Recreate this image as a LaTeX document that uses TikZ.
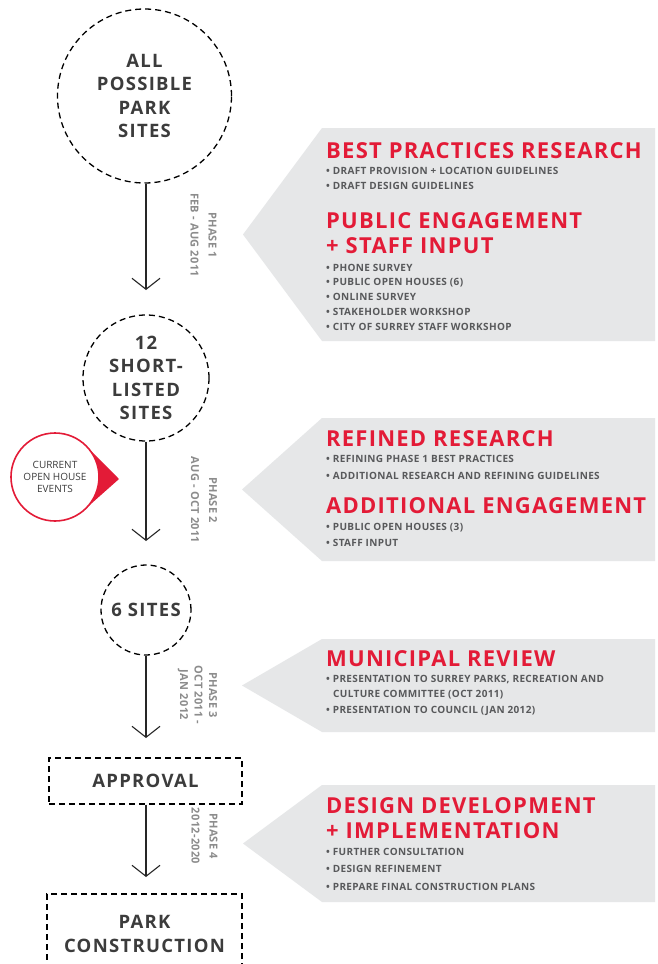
\documentclass[tikz,border=0pt]{standalone}
\usepackage{fontspec}
\setmainfont{Open Sans}
\newfontfamily\ttlfont{Open Sans}[LetterSpace=5.6]
\newfontfamily\nodefont{Open Sans}[LetterSpace=7]
\newfontfamily\phasefont{Open Sans}[LetterSpace=3]
\newfontfamily\bulfont{Open Sans}[LetterSpace=3.5]
\newfontfamily\markfont{Open Sans}
\usetikzlibrary{arrows.meta,calc}
\definecolor{tred}{RGB}{227,27,55}
\definecolor{bulgray}{RGB}{88,89,91}
\definecolor{maintext}{RGB}{60,60,60}
\definecolor{phasegray}{RGB}{140,140,140}
\definecolor{panelgray}{RGB}{230,231,232}
\tikzset{
  dline/.style={draw=black, line width=1.3pt, dash pattern=on 6pt off 4pt},
  dcirc/.style={circle, dline, inner sep=0pt, align=center, text=maintext,
    font=\nodefont\bfseries\fontsize{18.5}{23.3}\selectfont},
  dbox/.style={rectangle, dline, inner sep=0pt, align=center, text=maintext,
    font=\nodefont\bfseries\fontsize{18.5}{24.5}\selectfont},
  flow/.style={draw=black!85, line width=1.1pt, -{Straight Barb[length=11pt,width=28pt]}},
  phase/.style={rotate=-90, align=center, inner sep=0pt, text=phasegray,
    font=\phasefont\bfseries\fontsize{11}{18}\selectfont},
  ttl/.style={anchor=base west, inner sep=0pt, text=tred,
    font=\ttlfont\bfseries\fontsize{22}{22}\selectfont},
  bul/.style={anchor=base west, inner sep=0pt, text=bulgray,
    font=\bulfont\bfseries\fontsize{10}{10}\selectfont},
  panel/.style={fill=panelgray},
  marker/.style={circle, draw=tred, line width=1.6pt, fill=white, inner sep=0pt,
    minimum size=88pt, align=center, text=maintext,
    font=\markfont\fontsize{10}{12}\selectfont}
}
\begin{document}
\begin{tikzpicture}[x=1pt,y=-1pt]
\clip (0,0) rectangle (658,964);
\fill[white] (0,0) rectangle (658,964);
% grey panels
\fill[panel] (243,234.5) -- (322,128) -- (655,128) -- (655,341) -- (322,341) -- cycle;
\fill[panel] (242,489.5) -- (322,418) -- (655,418) -- (655,561) -- (322,561) -- cycle;
\fill[panel] (242,685.5) -- (322,639) -- (655,639) -- (655,732) -- (322,732) -- cycle;
\fill[panel] (243,843.5) -- (322,785) -- (655,785) -- (655,902) -- (322,902) -- cycle;
% panel 1 text
\node[ttl] (h1) at (326,158) {BEST PRACTICES RESEARCH};
\node[bul] (b11) at (326,174.3) {\textbullet\ DRAFT PROVISION + LOCATION GUIDELINES};
\node[bul] (b12) at (326,189) {\textbullet\ DRAFT DESIGN GUIDELINES};
\node[ttl] (h2) at (326,228) {PUBLIC ENGAGEMENT};
\node[ttl] (h2b) at (326,253) {+ STAFF INPUT};
\node[bul] (b21) at (326,271) {\textbullet\ PHONE SURVEY};
\node[bul] (b22) at (326,285.7) {\textbullet\ PUBLIC OPEN HOUSES (6)};
\node[bul] (b23) at (326,300.5) {\textbullet\ ONLINE SURVEY};
\node[bul] (b24) at (326,315.3) {\textbullet\ STAKEHOLDER WORKSHOP};
\node[bul] (b25) at (326,330) {\textbullet\ CITY OF SURREY STAFF WORKSHOP};
% panel 2 text
\node[ttl] (h3) at (326,446.7) {REFINED RESEARCH};
\node[bul] (b31) at (326,462.3) {\textbullet\ REFINING PHASE 1 BEST PRACTICES};
\node[bul] (b32) at (326,479) {\textbullet\ ADDITIONAL RESEARCH AND REFINING GUIDELINES};
\node[ttl] (h4) at (326,513.3) {ADDITIONAL ENGAGEMENT};
\node[bul] (b41) at (326,530) {\textbullet\ PUBLIC OPEN HOUSES (3)};
\node[bul] (b42) at (326,546.7) {\textbullet\ STAFF INPUT};
% panel 3 text
\node[ttl] (h5) at (326,666.7) {MUNICIPAL REVIEW};
\node[bul] (b51) at (326,682.7) {\textbullet\ PRESENTATION TO SURREY PARKS, RECREATION AND};
\node[bul] (b51b) at (333,697.7) {CULTURE COMMITTEE (OCT 2011)};
\node[bul] (b52) at (326,713.3) {\textbullet\ PRESENTATION TO COUNCIL (JAN 2012)};
% panel 4 text
\node[ttl] (h6) at (326,813.3) {DESIGN DEVELOPMENT};
\node[ttl] (h6b) at (326,838.8) {+ IMPLEMENTATION};
\node[bul] (b61) at (326,855) {\textbullet\ FURTHER CONSULTATION};
\node[bul] (b62) at (326,872.7) {\textbullet\ DESIGN REFINEMENT};
\node[bul] (b63) at (326,890) {\textbullet\ PREPARE FINAL CONSTRUCTION PLANS};
% flow nodes
\node[dcirc, minimum size=174pt] (c1) at (144.5,96) {ALL\\POSSIBLE\\PARK\\SITES};
\node[dcirc, minimum size=126pt] (c2) at (146,378) {12\\SHORT-\\LISTED\\SITES};
\node[dcirc, minimum size=90pt] (c3) at (146,610) {6 SITES};
\node[dbox, minimum width=193pt, minimum height=46pt] (ap) at (145.5,781) {APPROVAL};
\node[dbox, minimum width=195pt, minimum height=80pt] (pc) at (144.5,934) {PARK\\CONSTRUCTION};
% arrows
\coordinate (t1) at (146,290);
\coordinate (t2) at (146,541);
\coordinate (t3) at (146,738);
\coordinate (t4) at (146,877);
\draw[flow] (c1.south -| t1) -- (t1);
\draw[flow] (c2.south -| t2) -- (t2);
\draw[flow] (c3.south -| t3) -- (t3);
\draw[flow] (ap.south -| t4) -- (t4);
% phase labels
\node[phase] (p1) at (203.5,235) {PHASE 1\\FEB - AUG 2011};
\node[phase] (p2) at (204,500) {PHASE 2\\AUG - OCT 2011};
\node[phase, font=\phasefont\bfseries\fontsize{11}{14.5}\selectfont] (p3) at (197.5,695) {PHASE 3\\OCT 2011 -\\JAN 2012};
\node[phase] (p4) at (204.5,836) {PHASE 4\\2012-2020};
% marker
\coordinate (mkc) at (55,477);
\coordinate (mtip) at (119,479);
\fill[tred] (mtip) -- ($(mkc)+(48:44)$) -- ($(mkc)+(-48:44)$) -- cycle;
\node[marker] (mk) at (mkc) {CURRENT\\OPEN HOUSE\\EVENTS};
\end{tikzpicture}
\end{document}
